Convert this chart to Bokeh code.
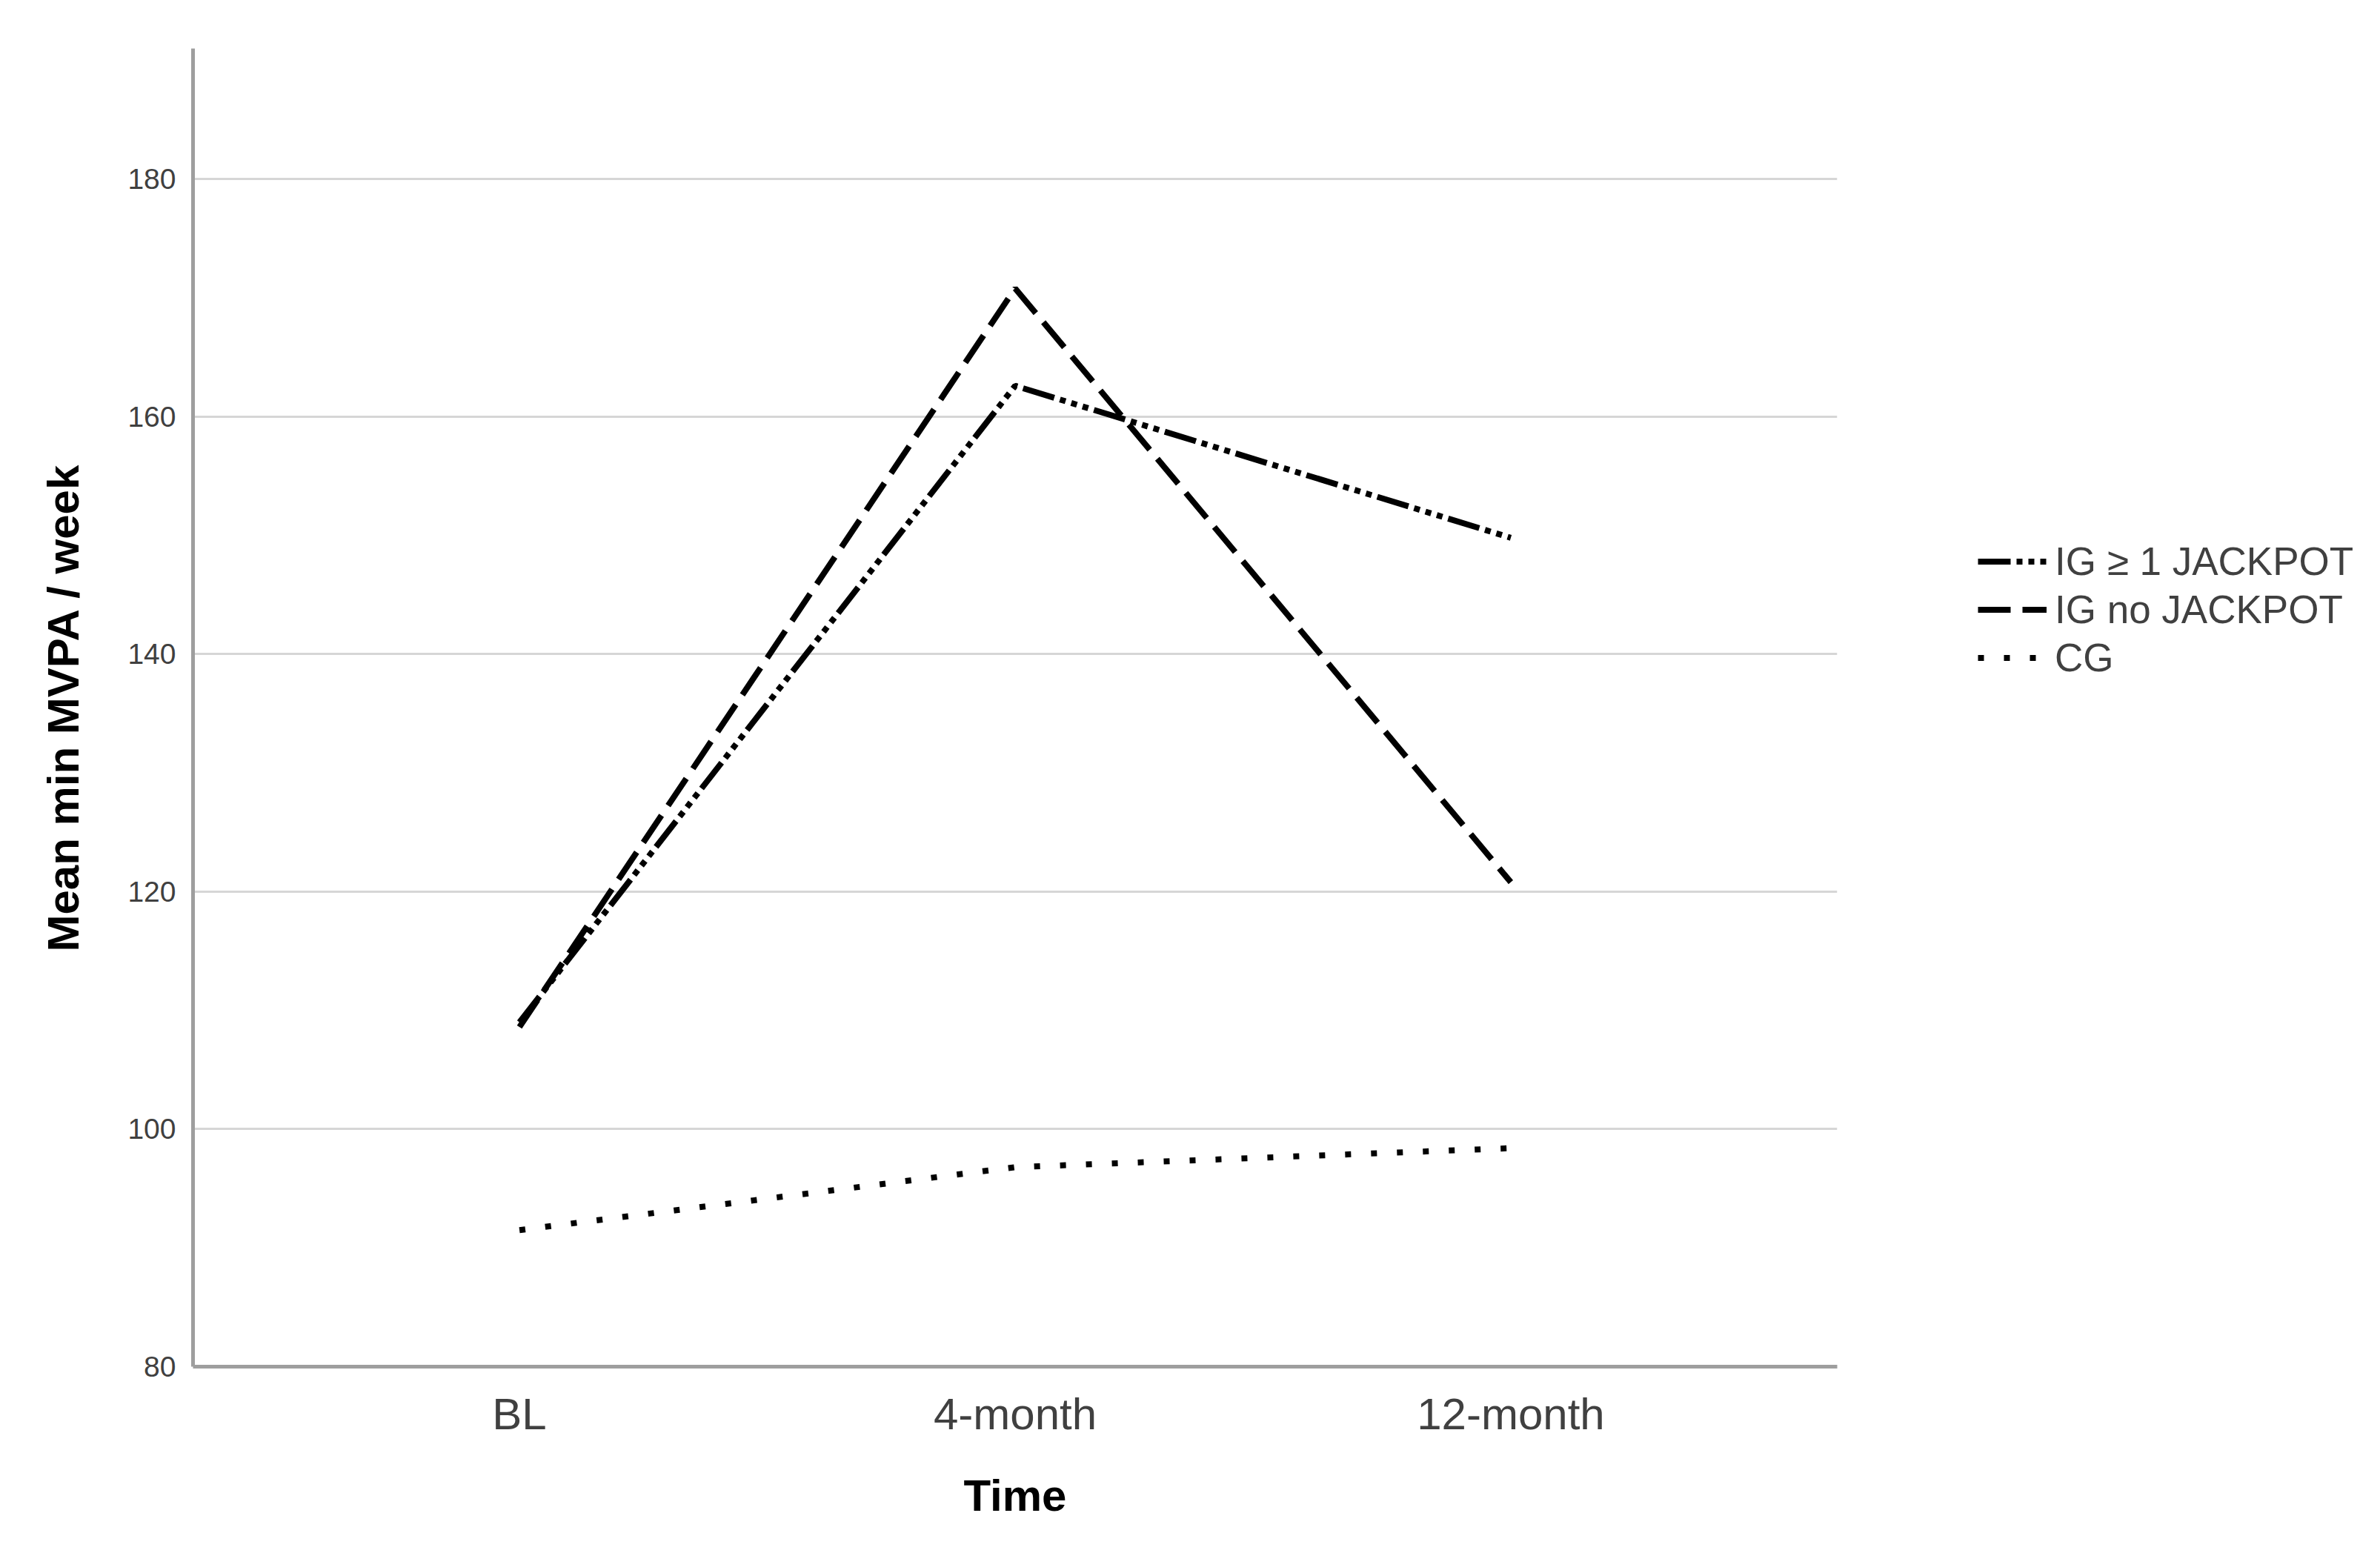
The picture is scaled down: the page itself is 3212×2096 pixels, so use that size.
from bokeh.plotting import figure
from bokeh.layouts import row
from bokeh.models import FactorRange, Range1d, Legend, LegendItem, FixedTicker, ColumnDataSource
from bokeh.embed import file_html
from bokeh.resources import INLINE

# ---- data ----
times = ["BL", "4-month", "12-month"]
ig_jackpot = [109.0, 162.6, 149.8]
ig_no_jackpot = [108.6, 170.8, 120.8]
cg = [91.5, 96.8, 98.4]
y_ticks = [80, 100, 120, 140, 160, 180]
series_names = ["IG \u2265 1 JACKPOT", "IG no JACKPOT", "CG"]

FONT = "Liberation Sans"
H = 2080
W_MAIN = 2500
W_LEG = 696

styles = [dict(line_dash="44 8 8 8 8 8 8 8"),
          dict(line_dash="44 16"),
          dict(line_dash="8 27")]
cols = ["a", "b", "c"]

src = ColumnDataSource(dict(t=times, a=ig_jackpot, b=ig_no_jackpot, c=cg))

# ---- main chart ----
p = figure(width=W_MAIN, height=H,
           x_range=FactorRange(*times, range_padding=0.1057),
           y_range=Range1d(80, 191),
           output_backend="svg", toolbar_location=None,
           min_border_left=260, min_border_top=65,
           min_border_right=21, min_border_bottom=236)
p.outline_line_color = None

for c, st in zip(cols, styles):
    p.line("t", c, source=src, line_color="black", line_width=8, **st)

for ax in (p.xaxis[0], p.yaxis[0]):
    ax.axis_line_color = "#9e9e9e"
    ax.axis_line_width = 5
    ax.major_tick_line_color = None
    ax.minor_tick_line_color = None
    ax.major_label_text_font = FONT
    ax.major_label_text_color = "#404040"
    ax.axis_label_text_font = FONT
    ax.axis_label_text_font_style = "bold"
    ax.axis_label_text_color = "black"
    ax.axis_label_text_font_size = "60px"

p.yaxis.ticker = FixedTicker(ticks=y_ticks)
p.yaxis.major_label_text_font_size = "39px"
p.yaxis.major_label_standoff = 17
p.yaxis.axis_label = "Mean min MVPA / week"
p.yaxis.axis_label_standoff = 50

p.xaxis.major_label_text_font_size = "60px"
p.xaxis.major_label_standoff = 24
p.xaxis.axis_label = "Time"
p.xaxis.axis_label_standoff = 40

p.xgrid.grid_line_color = None
p.ygrid.ticker = FixedTicker(ticks=y_ticks)
p.ygrid.grid_line_color = "#d6d6d6"
p.ygrid.grid_line_width = 3

# ---- legend panel ----
q = figure(width=W_LEG, height=H,
           x_range=FactorRange(*times), y_range=Range1d(80, 191),
           output_backend="svg", toolbar_location=None,
           x_axis_location=None, y_axis_location=None,
           min_border=0)
q.outline_line_color = None
q.grid.visible = False

leg_renderers = []
for c, st in zip(cols, styles):
    r = q.line("t", c, source=src, line_color="black", line_width=8, **st)
    r.visible = False
    leg_renderers.append(r)

legend = Legend(items=[LegendItem(label=n, renderers=[r])
                       for n, r in zip(series_names, leg_renderers)],
                location=(169, 924))
legend.margin = 0
legend.padding = 0
legend.spacing = 0
legend.glyph_width = 93
legend.glyph_height = 65
legend.label_height = 65
legend.label_standoff = 11
legend.label_text_font = FONT
legend.label_text_font_size = "53px"
legend.label_text_color = "#404040"
legend.border_line_color = None
legend.background_fill_alpha = 0
legend.click_policy = "none"
q.add_layout(legend)

layout = row(p, q)
open("out.html", "w").write(file_html(layout, INLINE))
